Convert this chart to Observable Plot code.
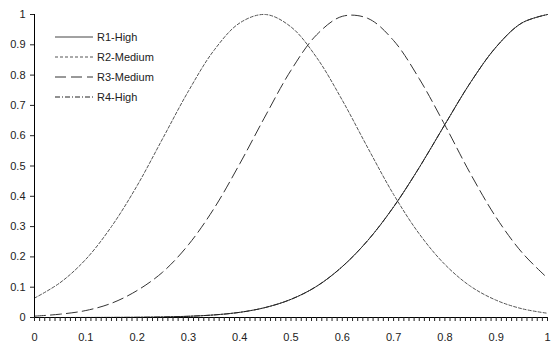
<!DOCTYPE html>
<html>
<head>
<meta charset="utf-8">
<script src="https://cdn.jsdelivr.net/npm/d3@7"></script>
<script src="https://cdn.jsdelivr.net/npm/@observablehq/plot@0.6"></script>
<style>
  html, body { margin: 0; padding: 0; background: #fff; }
  #wrap { position: relative; width: 551px; height: 345px; font-family: "Liberation Sans", Arial, sans-serif; }
  #legend { position: absolute; left: 0; top: 0; }
</style>
</head>
<body>
<div id="wrap"></div>
<script>
// x positions (0 .. 1, step 0.05)
const xs = [0, 0.05, 0.1, 0.15, 0.2, 0.25, 0.3, 0.35, 0.4, 0.45, 0.5, 0.55, 0.6, 0.65, 0.7, 0.75, 0.8, 0.85, 0.9, 0.95, 1];
const r1High   = [0, 0, 0.0001, 0.0003, 0.0007, 0.0017, 0.004, 0.0085, 0.017, 0.033, 0.06, 0.103, 0.168, 0.255, 0.365, 0.495, 0.637, 0.776, 0.893, 0.972, 1];
const r2Medium = [0.064, 0.115, 0.192, 0.300, 0.435, 0.591, 0.747, 0.882, 0.972, 1.0, 0.959, 0.858, 0.717, 0.559, 0.406, 0.276, 0.175, 0.103, 0.057, 0.029, 0.014];
const r3Medium = [0.0045, 0.011, 0.023, 0.047, 0.089, 0.150, 0.240, 0.360, 0.507, 0.665, 0.816, 0.933, 0.994, 0.987, 0.914, 0.788, 0.635, 0.474, 0.330, 0.215, 0.130];
const r4High   = [0, 0, 0.0001, 0.0003, 0.0007, 0.0017, 0.004, 0.0085, 0.017, 0.033, 0.06, 0.103, 0.168, 0.255, 0.365, 0.495, 0.637, 0.776, 0.893, 0.972, 1];
const seriesNames = ["R1-High", "R2-Medium", "R3-Medium", "R4-High"];
const seriesValues = [r1High, r2Medium, r3Medium, r4High];
const seriesColors = ["#444", "#555", "#333", "#222"];
const dashes = [null, "3,2", "11,5", "5,2,1,2"];
const xMajorTicks = [0, 0.1, 0.2, 0.3, 0.4, 0.5, 0.6, 0.7, 0.8, 0.9, 1];
const xMinorTicks = d3.range(0, 101).map(i => i / 100);
const yTicks = [0, 0.1, 0.2, 0.3, 0.4, 0.5, 0.6, 0.7, 0.8, 0.9, 1];

const fmt = d => String(+d.toFixed(2));

const lineMarks = seriesNames.map((name, i) => {
  const data = xs.map((x, j) => ({x, y: seriesValues[i][j]}));
  return Plot.line(data, {
    x: "x", y: "y", curve: "catmull-rom",
    stroke: seriesColors[i], strokeWidth: 1,
    strokeDasharray: dashes[i] || undefined
  });
});

const chart = Plot.plot({
  width: 551,
  height: 345,
  marginLeft: 34,
  marginRight: 4,
  marginTop: 14,
  marginBottom: 28,
  style: {fontFamily: "'Liberation Sans', Arial, sans-serif", fontSize: "11px", color: "#222", background: "#fff"},
  x: {domain: [0, 1]},
  y: {domain: [0, 1]},
  marks: [
    ...lineMarks,
    Plot.ruleX([0], {stroke: "#000", strokeWidth: 1}),
    Plot.ruleY([0], {stroke: "#000", strokeWidth: 1}),
    Plot.axisY({ticks: yTicks, tickFormat: fmt, tickSize: 4, tickPadding: 5, label: null, fill: "#222"}),
    Plot.axisX({ticks: xMinorTicks, tickFormat: () => "", tickSize: 4, label: null}),
    Plot.axisX({ticks: xMajorTicks, tickFormat: fmt, tickSize: 0, tickPadding: 16, label: null, fill: "#222"})
  ]
});
document.getElementById("wrap").appendChild(chart);

// legend
const ns = "http://www.w3.org/2000/svg";
const leg = document.createElementNS(ns, "svg");
leg.setAttribute("id", "legend");
leg.setAttribute("width", 200);
leg.setAttribute("height", 110);
seriesNames.forEach((name, i) => {
  const yy = 37 + i * 20;
  const ln = document.createElementNS(ns, "line");
  ln.setAttribute("x1", 55); ln.setAttribute("x2", 93);
  ln.setAttribute("y1", yy); ln.setAttribute("y2", yy);
  ln.setAttribute("stroke", seriesColors[i]); ln.setAttribute("stroke-width", 1);
  if (dashes[i]) ln.setAttribute("stroke-dasharray", dashes[i]);
  leg.appendChild(ln);
  const t = document.createElementNS(ns, "text");
  t.setAttribute("x", 97); t.setAttribute("y", yy + 4);
  t.setAttribute("font-size", "11px");
  t.setAttribute("font-family", "'Liberation Sans', Arial, sans-serif");
  t.setAttribute("fill", "#222");
  t.textContent = name;
  leg.appendChild(t);
});
document.getElementById("wrap").appendChild(leg);
</script>
</body>
</html>
